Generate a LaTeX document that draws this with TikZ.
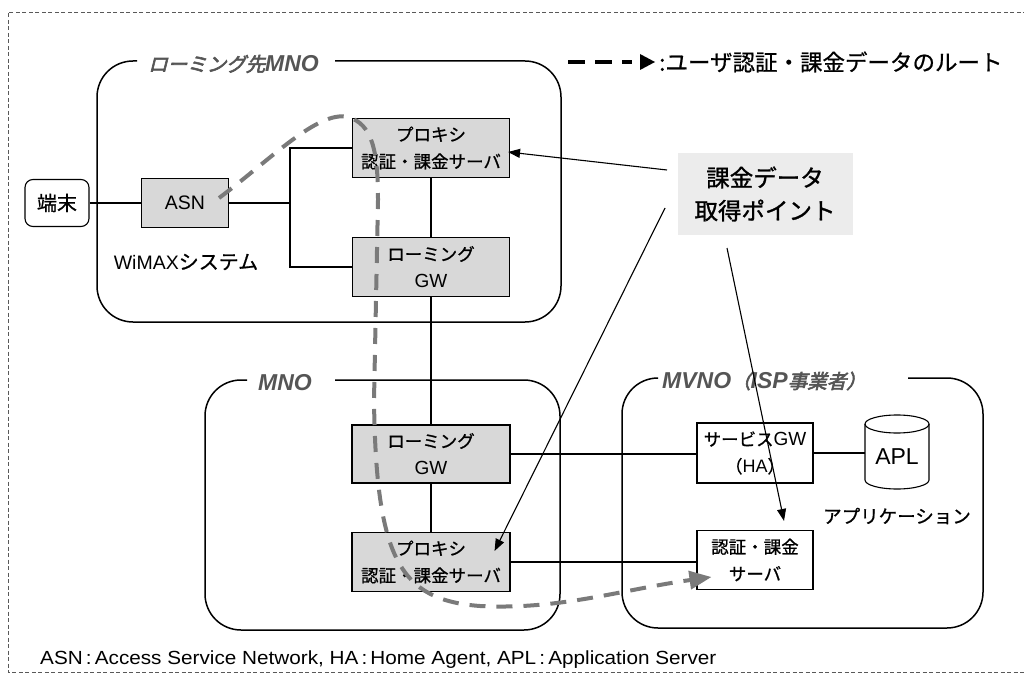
\documentclass[tikz,border=0pt]{standalone}
\usepackage{fontspec}
\setmainfont{Noto Sans CJK JP}
\newfontfamily\jp[FakeBold=0.8]{Noto Sans CJK JP}
\newfontfamily\ttlfont[FakeSlant=0.25,FakeBold=3]{Noto Sans CJK JP}
\newfontfamily\medfont[FakeBold=1.2]{Noto Sans CJK JP}
\newfontfamily\lat{Liberation Sans}
\newfontfamily\latw[FakeStretch=1.09]{Liberation Sans}
\usetikzlibrary{arrows.meta,calc}
\definecolor{boxgray}{RGB}{216,216,216}
\definecolor{ptgray}{RGB}{236,236,236}
\definecolor{routegray}{RGB}{122,122,122}
\definecolor{ttlgray}{RGB}{85,85,85}
\newcommand{\ltx}[2]{{\lat\fontsize{#1}{#1}\selectfont #2}}
\newcommand{\lbi}[2]{{\lat\bfseries\itshape\fontsize{#1}{#1}\selectfont #2}}
\tikzset{
  grp/.style={draw, line width=1.5pt, rounded corners=36pt},
  srv/.style={draw, line width=1.1pt, fill=boxgray, inner sep=0pt, align=center,
     font=\jp\fontsize{17.5}{27}\selectfont},
  wsrv/.style={srv, fill=white},
  conn/.style={line width=1.6pt},
  arr/.style={line width=1.1pt, -{Triangle[length=12pt,width=9pt]}},
  route/.style={line width=4pt, color=routegray, dash pattern=on 16pt off 11pt,
     -{Triangle[length=22pt,width=18pt]}},
  ttl/.style={font=\ttlfont\fontsize{19.5}{20}\selectfont, text=ttlgray, inner sep=0pt},
  lbl/.style={inner sep=0pt, font=\jp\fontsize{20}{22}\selectfont}
}
\begin{document}
\begin{tikzpicture}[x=1pt,y=-1pt]
\useasboundingbox (0,0) rectangle (1024,679);
% outer dashed frame
\draw[gray!70!black, line width=0.9pt, dash pattern=on 4pt off 2.5pt]
  (1040,12) -- (8,12) -- (8,672) -- (1040,672);

% group boxes
\draw[grp] (335,61) -- (561,61) -- (561,322) -- (97,322) -- (97,61) -- (137,61);
\node[ttl, anchor=west] (t1) at (148,64) {ローミング先\lbi{23}{MNO}};
\draw[grp] (335,380) -- (560,380) -- (560,630) -- (205,630) -- (205,380) -- (247,380);
\node[ttl, anchor=west] (t2) at (258,383) {\lbi{23}{MNO}};
\draw[grp] (908,378) -- (983,378) -- (983,628) -- (622,628) -- (622,378) -- (657,378);
\node[ttl, anchor=west] (t3) at (662,381) {\lbi{23}{MVNO}（\lbi{23}{ISP}事業者）};

% nodes
\node[wsrv, rounded corners=8pt, minimum width=64pt, minimum height=47pt, font=\jp\fontsize{20}{20}\selectfont] (term) at (57,203) {端末};
\node[srv, minimum width=87pt, minimum height=49pt] (asn) at (185,203) {\ltx{19.5}{ASN}};
\node[srv, minimum width=157pt, minimum height=59pt] (prx1) at (431,148) {プロキシ\\認証・課金サーバ};
\node[srv, minimum width=157pt, minimum height=59pt] (rgw1) at (431,267) {ローミング\\\ltx{19}{GW}};
\node[srv, minimum width=158pt, minimum height=58pt] (rgw2) at (431,454) {ローミング\\\ltx{19}{GW}};
\node[srv, minimum width=158pt, minimum height=59pt] (prx2) at (431,562) {プロキシ\\認証・課金サーバ};
\node[wsrv, minimum width=116pt, minimum height=60pt] (sgw) at (755,453) {サービス\ltx{19}{GW}\\（\ltx{18}{HA}）};
\node[wsrv, minimum width=116pt, minimum height=59pt] (auth) at (755,560) {認証・課金\\サーバ};

% APL cylinder
\fill[white] (865,424) -- (865,480) arc (180:0:32 and 9) -- (929,424) -- cycle;
\draw[line width=1.1pt] (897,424) ellipse (32 and 9);
\draw[line width=1.1pt] (865,424) -- (865,480) arc (180:0:32 and 9) -- (929,424);
\node[inner sep=0pt, minimum width=64pt, minimum height=73pt] (apl) at (897,457) {\ltx{23}{APL}};

\node[lbl] (wimax) at (186,262) {\ltx{19.5}{WiMAX}システム};
\node[lbl, font=\jp\fontsize{18.5}{20}\selectfont] (app) at (897,516) {アプリケーション};

% billing data point
\node[fill=ptgray, minimum width=175pt, minimum height=82pt, inner sep=0pt, align=center,
  font=\medfont\fontsize{23.5}{33}\selectfont] (pt) at (765,194) {課金データ\\取得ポイント};

% connectors
\draw[conn] (term) -- (asn);
\coordinate (j) at (290,203);
\draw[conn] (asn.east) -- (j);
\draw[conn] (prx1.west) -| (j) |- (rgw1.west);
\draw[conn] (prx1.south) -- (rgw1.north);
\draw[conn] (rgw1.south) -- (rgw2.north);
\draw[conn] (rgw2.south) -- (prx2.north);
\draw[conn] (rgw2.east) -- (rgw2.east -| sgw.west);
\draw[conn] (prx2.east) -- (prx2.east -| auth.west);
\draw[conn] (sgw.east) -- (sgw.east -| apl.west);

% arrows from billing point
\coordinate (a1) at (667,170);
\coordinate (a2) at (665,208);
\coordinate (a3) at (727,248);
\draw[arr] (a1) -- ($(prx1.east)+(-2,4)$);
\draw[arr] (a2) -- ($(prx2.east)+(-16,-11)$);
\draw[arr] (a3) -- ($(auth.north)+(29,-9)$);

% route
\draw[route] ($(asn.east)+(-10,-5)$) .. controls (270,160) and (318,110) .. (348,117)
  .. controls (372,124) and (378,150) .. (378,200) -- (374,400)
  .. controls (376,560) and (400,600) .. (480,606)
  .. controls (560,610) and (620,590) .. ($(auth.west)+(15,17)$);

% legend
\coordinate (l1) at (568,62);
\coordinate (l2) at (632,62);
\draw[line width=3.4pt, dash pattern=on 17pt off 10pt] (l1) -- (l2);
\fill (640,54) -- (655,62) -- (640,70) -- cycle;
\node[anchor=west, inner sep=0pt, font=\jp\fontsize{22.5}{22}\selectfont] (leg) at (659,62) {:ユーザ認証・課金データのルート};

% footnote
\node[anchor=west, inner sep=0pt, font=\latw\fontsize{19}{19}\selectfont] (fn) at (40,660)
  {ASN\,:\,Access Service Network, HA\,:\,Home Agent, APL\,:\,Application Server};
\end{tikzpicture}
\end{document}
